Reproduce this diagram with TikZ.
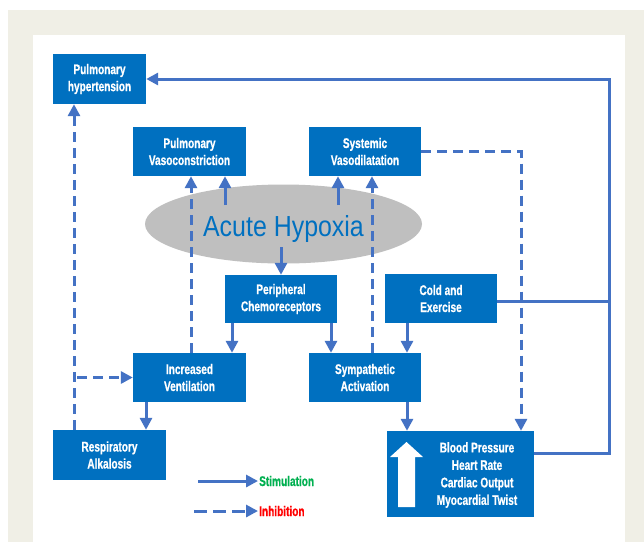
\documentclass[tikz,border=0pt]{standalone}
\usepackage{fontspec}
\usetikzlibrary{arrows.meta,shapes.geometric,calc}
\newfontfamily\condfont[FakeStretch=0.72,FakeBold=0.6]{Liberation Sans}
\newfontfamily\hypfont[FakeStretch=0.86]{Liberation Sans}
\definecolor{boxblue}{HTML}{0070C0}
\definecolor{linkblue}{HTML}{4472C4}
\definecolor{beige}{HTML}{F0EFE6}
\definecolor{ellgray}{HTML}{BFBFBF}
\definecolor{stimgreen}{HTML}{00B050}
\definecolor{inhred}{HTML}{FF0000}
\tikzset{
  bx/.style={rectangle, fill=boxblue, text=white, inner sep=0pt, align=center,
    font=\condfont\bfseries\fontsize{14}{17}\selectfont},
  link/.style={draw=linkblue, line width=3pt},
  stim/.style={link, -{Triangle[length=12pt,width=12pt]}},
  inh/.style={link, dash pattern=on 10pt off 6pt, -{Triangle[length=12pt,width=12pt]}},
  legtext/.style={anchor=west, inner sep=1pt, font=\condfont\bfseries\fontsize{14}{17}\selectfont},
}
\begin{document}
\begin{tikzpicture}[x=1pt,y=-1pt]
\useasboundingbox (0,0) rectangle (644,542);
\fill[white] (0,0) rectangle (644,542);
\fill[beige] (8,10) rectangle (644,542);
\fill[white] (33,35) rectangle (625,542);

% ellipse first (arrows drawn over it)
\node[ellipse, fill=ellgray, minimum width=277pt, minimum height=79pt, inner sep=0pt,
  text height=29pt, text depth=5pt,
  text=boxblue, font=\hypfont\fontsize{29}{30}\selectfont] (hyp) at (283.5,224) {Acute Hypoxia};

\node[bx, minimum width=93pt, minimum height=50pt] (ph) at (99.5,79) {Pulmonary\\hypertension};
\node[bx, minimum width=113pt, minimum height=49pt] (pv) at (189.5,151.5) {Pulmonary\\Vasoconstriction};
\node[bx, minimum width=112pt, minimum height=49pt] (sv) at (365,151.5) {Systemic\\Vasodilatation};
\node[bx, minimum width=112pt, minimum height=48pt] (pc) at (281,299) {Peripheral\\Chemoreceptors};
\node[bx, minimum width=112pt, minimum height=49pt] (cold) at (441,298.5) {Cold and\\Exercise};
\node[bx, minimum width=113pt, minimum height=49pt] (iv) at (189.5,377.5) {Increased\\Ventilation};
\node[bx, minimum width=112pt, minimum height=49pt] (sa) at (365,377.5) {Sympathetic\\Activation};
\node[bx, minimum width=113pt, minimum height=50pt] (ra) at (109.5,455) {Respiratory\\Alkalosis};
\node[bx, minimum width=147pt, minimum height=86pt] (bp) at (460.5,474) {};
\node[bx, anchor=center, font=\condfont\bfseries\fontsize{14}{17.5}\selectfont] (bptext) at (477,475)
  {Blood Pressure\\Heart Rate\\Cardiac Output\\Myocardial Twist};
% white up arrow inside the box
\fill[white] (398,507) -- (415,507) -- (415,457) -- (423,457) -- (406.5,442) -- (390,457) -- (398,457) -- cycle;

% coordinates for connector ends inside the ellipse
\coordinate (h1) at (225,205);
\coordinate (h2) at (338,205);
\coordinate (h3) at (281,247);
\coordinate (rt) at (609,79);
\coordinate (br) at (74,377.5);

% from acute hypoxia
\draw[stim] (h1) -- (h1 |- pv.south);
\draw[stim] (h2) -- (h2 |- sv.south);
\draw[stim] (h3) -- (pc.north);

% dashed to vasoconstriction / vasodilatation
\draw[inh] ([xshift=1.5pt]iv.north) -- ([xshift=1.5pt]pv.south);
\draw[inh] ([xshift=7pt]sa.north) -- ([xshift=7pt]sv.south);

% chemoreceptors
\draw[stim] ([xshift=-49pt]pc.south) -- ([xshift=-49pt]pc.south |- iv.north);
\draw[stim] ([xshift=50pt]pc.south) -- ([xshift=50pt]pc.south |- sa.north);
\draw[stim] ([xshift=-34pt]cold.south) -- ([xshift=-34pt]cold.south |- sa.north);
\draw[stim] ([xshift=-43.5pt]iv.south) -- ([xshift=-43.5pt]iv.south |- ra.north);
\draw[stim] ([xshift=42pt]sa.south) -- ([xshift=42pt]sa.south |- bp.north);

% respiratory alkalosis feedback
\draw[inh] ([xshift=-35.5pt]ra.north) -- ([xshift=-35.5pt]ra.north |- ph.south);
\draw[inh] ([xshift=3pt]br) -- (iv.west);

% systemic vasodilatation to blood pressure
\draw[inh] (sv.east) -| ([xshift=60.5pt]bp.north);

% right feedback loop
\draw[stim] ([yshift=21pt]bp.east) -| (rt) -- (ph.east);
\draw[link] ([yshift=-3pt]cold.east) -- ([yshift=-3pt]cold.east -| rt);

% legend
\node[legtext, text=stimgreen] (lstim) at (258,481) {Stimulation};
\node[legtext, text=inhred] (linh) at (258,511) {Inhibition};
\coordinate (ls) at (198,481);
\coordinate (li) at (194,511);
\draw[stim] (ls) -- (lstim.west);
\draw[link, dash pattern=on 13pt off 6pt, -{Triangle[length=12pt,width=12pt]}] (li) -- (linh.west);
\end{tikzpicture}
\end{document}
